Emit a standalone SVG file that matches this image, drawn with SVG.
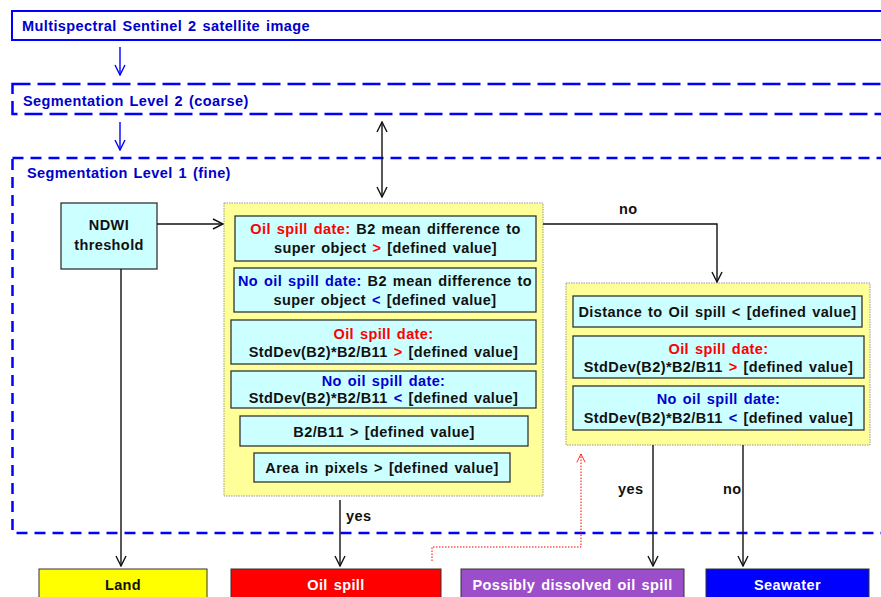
<svg xmlns="http://www.w3.org/2000/svg" width="881" height="597" viewBox="0 0 881 597">
<defs>
<style>
text{font-family:"Liberation Sans",Arial,sans-serif;font-weight:bold;font-size:14.5px;letter-spacing:0.4px;word-spacing:1.5px;fill:#111}
.hd{fill:#0000CC}
.c{text-anchor:middle}
.r{fill:#FF0000}
.b{fill:#0000CC}
.w{fill:#FFFFFF}
.cy{fill:#CCFFFF;stroke:#333;stroke-width:1.3}
.yl{fill:#FFFF99;stroke:#999;stroke-width:1;stroke-dasharray:1.5 1}
.bl{fill:none;stroke:#0000FF;stroke-width:2.5}
.k{fill:none;stroke:#111;stroke-width:1.4}
</style>
<marker id="ak" viewBox="0 0 12 12" refX="11" refY="6" markerWidth="12" markerHeight="12" markerUnits="userSpaceOnUse" orient="auto-start-reverse"><path d="M1,1 L11,6 L1,11" fill="none" stroke="#111" stroke-width="1.4"/></marker>
<marker id="ab" viewBox="0 0 12 12" refX="11" refY="6" markerWidth="12" markerHeight="12" markerUnits="userSpaceOnUse" orient="auto"><path d="M1,1 L11,6 L1,11" fill="none" stroke="#0000FF" stroke-width="1.4"/></marker>
<marker id="ar" viewBox="0 0 12 12" refX="11" refY="6" markerWidth="10" markerHeight="10" markerUnits="userSpaceOnUse" orient="auto"><path d="M1,1 L11,6 L1,11" fill="none" stroke="#FF0000" stroke-width="1"/></marker>
</defs>

<g id="sentinel">
<rect x="12" y="11" width="900" height="29" fill="none" stroke="#0000FF" stroke-width="2"/>
<text class="hd" x="22" y="31">Multispectral Sentinel 2 satellite image</text>
</g>
<g id="level2">
<rect x="12.5" y="84" width="900" height="30" class="bl" stroke-dasharray="18 7"/>
<text class="hd" x="23" y="106">Segmentation Level 2 (coarse)</text>
</g>
<g id="level1">
<rect x="12.5" y="158" width="900" height="375" class="bl" stroke-dasharray="11 7"/>
<text class="hd" x="27" y="178">Segmentation Level 1 (fine)</text>
</g>

<g id="ndwi">
<rect x="61" y="203" width="96" height="66" class="cy"/>
<text class="c" x="109" y="230">NDWI</text>
<text class="c" x="109" y="250">threshold</text>
</g>

<g id="rules1">
<rect x="224" y="203" width="319" height="293" class="yl"/>
<rect x="235" y="216" width="301" height="45" class="cy"/>
<text class="c" x="385.5" y="234"><tspan class="r">Oil spill date: </tspan>B2 mean difference to</text>
<text class="c" x="385.5" y="253">super object <tspan class="r">&gt;</tspan> [defined value]</text>
<rect x="234" y="268" width="302" height="44" class="cy"/>
<text class="c" x="385" y="286"><tspan class="b">No oil spill date: </tspan>B2 mean difference to</text>
<text class="c" x="385" y="305">super object <tspan class="b">&lt;</tspan> [defined value]</text>
<rect x="231" y="320" width="305" height="44" class="cy"/>
<text class="c r" x="383.5" y="339">Oil spill date:</text>
<text class="c" x="383.5" y="357">StdDev(B2)*B2/B11 <tspan class="r">&gt;</tspan> [defined value]</text>
<rect x="231" y="371" width="305" height="37" class="cy"/>
<text class="c b" x="383.5" y="386">No oil spill date:</text>
<text class="c" x="383.5" y="403">StdDev(B2)*B2/B11 <tspan class="b">&lt;</tspan> [defined value]</text>
<rect x="240" y="416" width="288" height="30" class="cy"/>
<text class="c" x="384" y="437">B2/B11 &gt; [defined value]</text>
<rect x="254" y="453" width="256" height="29" class="cy"/>
<text class="c" x="382" y="473">Area in pixels &gt; [defined value]</text>
</g>

<g id="rules2">
<rect x="566" y="283" width="304" height="162" class="yl"/>
<rect x="573" y="296" width="289" height="31" class="cy"/>
<text class="c" x="717.5" y="317">Distance to Oil spill &lt; [defined value]</text>
<rect x="573" y="336" width="291" height="42" class="cy"/>
<text class="c r" x="718.5" y="354">Oil spill date:</text>
<text class="c" x="718.5" y="372">StdDev(B2)*B2/B11 <tspan class="r">&gt;</tspan> [defined value]</text>
<rect x="573" y="386" width="291" height="44" class="cy"/>
<text class="c b" x="718.5" y="404">No oil spill date:</text>
<text class="c" x="718.5" y="423">StdDev(B2)*B2/B11 <tspan class="b">&lt;</tspan> [defined value]</text>
</g>

<g id="land">
<rect x="39" y="569" width="168" height="35" fill="#FFFF00" stroke="#333" stroke-width="1"/>
<text class="c" x="123" y="590">Land</text>
</g>
<g id="oilspill">
<rect x="231" y="569" width="210" height="35" fill="#FF0000" stroke="#333" stroke-width="1"/>
<text class="c w" x="336" y="590">Oil spill</text>
</g>
<g id="dissolved">
<rect x="461" y="569" width="223" height="35" fill="#9B4DCA" stroke="#333" stroke-width="1"/>
<text class="c w" x="572.5" y="590">Possibly dissolved oil spill</text>
</g>
<g id="seawater">
<rect x="706" y="569" width="163" height="35" fill="#0000FF" stroke="#333" stroke-width="1"/>
<text class="c w" x="787.5" y="590">Seawater</text>
</g>

<g id="connectors">
<line x1="120" y1="47" x2="120" y2="75" stroke="#0000FF" stroke-width="1.4" marker-end="url(#ab)"/>
<line x1="120" y1="122" x2="120" y2="150" stroke="#0000FF" stroke-width="1.4" marker-end="url(#ab)"/>
<line x1="382" y1="122" x2="382" y2="197" class="k" marker-start="url(#ak)" marker-end="url(#ak)"/>
<line x1="157" y1="224" x2="223" y2="224" class="k" marker-end="url(#ak)"/>
<polyline points="543,224 717,224 717,282" class="k" marker-end="url(#ak)"/>
<text x="619" y="214">no</text>
<line x1="121" y1="269" x2="121" y2="566" class="k" marker-end="url(#ak)"/>
<line x1="340" y1="500" x2="340" y2="566" class="k" marker-end="url(#ak)"/>
<text x="346" y="521">yes</text>
<line x1="653" y1="445" x2="653" y2="566" class="k" marker-end="url(#ak)"/>
<text x="618" y="494">yes</text>
<line x1="743" y1="445" x2="743" y2="566" class="k" marker-end="url(#ak)"/>
<text x="723" y="494">no</text>
<polyline points="432,561 432,547 581,547 581,454" fill="none" stroke="#FF0000" stroke-width="1" stroke-dasharray="1.5 1.5" marker-end="url(#ar)"/>
</g>
</svg>
